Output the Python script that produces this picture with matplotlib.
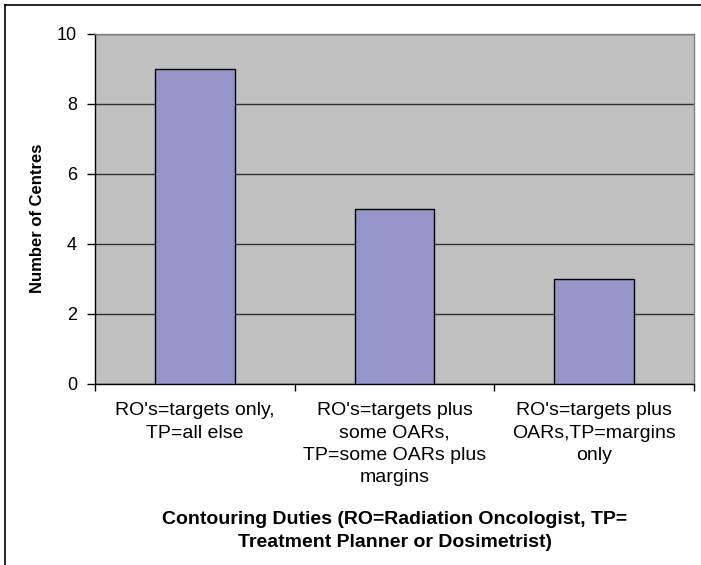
import matplotlib
matplotlib.use("Agg")
import matplotlib.pyplot as plt
from matplotlib.lines import Line2D

categories = [
    "RO's=targets only,\nTP=all else",
    "RO's=targets plus\nsome OARs,\nTP=some OARs plus\nmargins",
    "RO's=targets plus\nOARs,TP=margins\nonly",
]
centres = [9, 5, 3]
y_ticks = [0, 2, 4, 6, 8, 10]

plt.rcParams["font.family"] = ["Liberation Sans", "DejaVu Sans"]

W, H = 701, 565
fig = plt.figure(figsize=(W / 100, H / 100), dpi=100)
fig.patch.set_facecolor("white")

L, R, T, B = 95, 694, 34, 384
ax = fig.add_axes([L / W, (H - B) / H, (R - L) / W, (B - T) / H])
ax.set_facecolor("#C0C0C0")

x = list(range(len(categories)))
ax.bar(x, centres, width=0.4, color="#9595C9", edgecolor="black", linewidth=1.0, zorder=3)

ax.set_xlim(-0.5, len(categories) - 0.5)
ax.set_ylim(0, 10)
ax.set_yticks(y_ticks)
ax.set_yticklabels([str(v) for v in y_ticks], fontsize=13)
ax.yaxis.grid(True, color="#303030", linewidth=1.0, zorder=1)
ax.set_axisbelow(True)

# category boundaries carry the ticks, labels sit at bar centres
ax.set_xticks([i - 0.5 for i in range(len(categories) + 1)])
ax.set_xticklabels([])
ax.set_xticks(x, minor=True)
ax.set_xticklabels(categories, minor=True, fontsize=14, linespacing=1.42, va="top")
ax.tick_params(axis="x", which="minor", length=0, pad=13)
ax.tick_params(axis="x", which="major", length=5, width=1, color="black", direction="out")
ax.tick_params(axis="y", length=6, width=1, color="black", direction="out", pad=7)

for side in ("left", "bottom"):
    ax.spines[side].set_color("black")
    ax.spines[side].set_linewidth(1.0)
for side in ("top", "right"):
    ax.spines[side].set_color("#808080")
    ax.spines[side].set_linewidth(1.0)

fig.text(38 / W, 1 - 218 / H, "Number of Centres", rotation=90,
         ha="center", va="center", fontsize=12, fontweight="bold")

fig.text((L + R) / 2 / W, 1 - 531 / H,
         "Contouring Duties (RO=Radiation Oncologist, TP=\nTreatment Planner or Dosimetrist)",
         ha="center", va="center", fontsize=14, fontweight="bold", linespacing=1.45)

# chart frame
fig.add_artist(Line2D([4.5 / W, 4.5 / W], [0, 1 - 4.5 / H], transform=fig.transFigure,
                      color="black", linewidth=1.2))
fig.add_artist(Line2D([4.5 / W, 1], [1 - 4.5 / H, 1 - 4.5 / H], transform=fig.transFigure,
                      color="black", linewidth=1.2))

fig.savefig("out.png", dpi=100)
